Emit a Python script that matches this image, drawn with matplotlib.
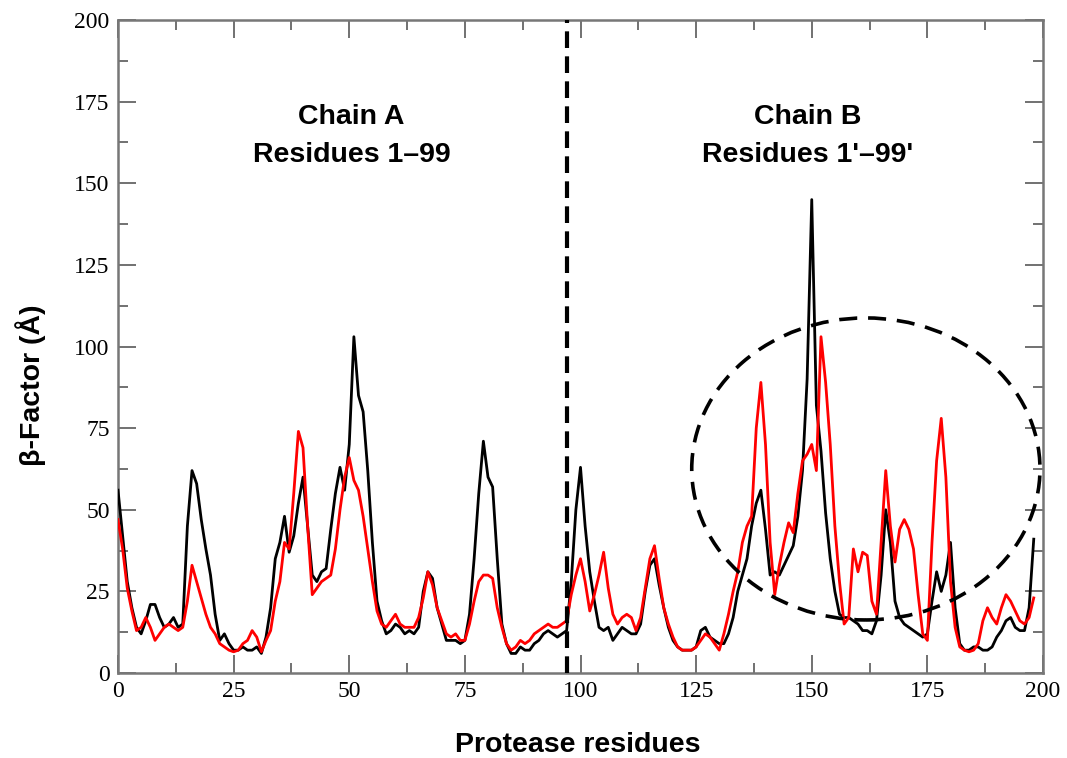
import numpy as np
import matplotlib.pyplot as plt
from matplotlib.patches import Ellipse
from matplotlib.ticker import MultipleLocator

# residue index (chain A 0-97, chain B continues)
residues = list(range(199))

# B-factors, black series
bf_black = [56, 42, 28, 20, 14, 12, 16, 21, 21, 17,
            14, 15, 17, 14, 15, 45, 62, 58, 47, 38,
            30, 18, 10, 12, 9, 7, 7, 8, 7, 7,
            8, 6, 11, 20, 35, 40, 48, 37, 42, 52,
            60, 45, 30, 28, 31, 32, 44, 55, 63, 56,
            70, 103, 85, 80, 62, 40, 22, 16, 12, 13,
            15, 14, 12, 13, 12, 14, 25, 31, 29, 20,
            15, 10, 10, 10, 9, 10, 18, 35, 55, 71,
            60, 57, 35, 15, 9, 6, 6, 8, 7, 7,
            9, 10, 12, 13, 12, 11, 12, 13, 28, 50,
            63, 45, 31, 22, 14, 13, 14, 10, 12, 14,
            13, 12, 12, 15, 25, 33, 35, 27, 20, 14,
            10, 8, 7, 7, 7, 8, 13, 14, 11, 10,
            9, 9, 12, 17, 25, 30, 35, 45, 52, 56,
            44, 30, 31, 30, 33, 36, 39, 48, 62, 90,
            145, 82, 68, 49, 35, 25, 18, 17, 17, 16,
            15, 13, 13, 12, 16, 30, 50, 40, 22, 17,
            15, 14, 13, 12, 11, 12, 22, 31, 25, 30,
            40, 20, 9, 7, 7, 8, 8, 7, 7, 8,
            11, 13, 16, 17, 14, 13, 13, 20, 41]

# B-factors, red series
bf_red = [47, 38, 26, 19, 13, 14, 17, 14, 10, 12,
          14, 15, 14, 13, 14, 22, 33, 28, 23, 18,
          14, 12, 9, 8, 7, 6.5, 7, 9, 10, 13,
          11, 6.5, 10, 13, 22, 28, 40, 38, 55, 74,
          69, 45, 24, 26, 28, 29, 30, 38, 50, 60,
          66, 59, 56, 48, 38, 28, 19, 15, 14, 16,
          18, 15, 14, 14, 14, 17, 23, 31, 27, 20,
          16, 12, 11, 12, 10, 10, 15, 22, 28, 30,
          30, 29, 20, 14, 9, 7, 8, 10, 9, 10,
          12, 13, 14, 15, 14, 14, 15, 16, 24, 30,
          35, 28, 19, 24, 30, 37, 26, 18, 15, 17,
          18, 17, 13, 17, 26, 35, 39, 29, 20, 15,
          11, 8, 7, 7, 7, 8, 10, 12, 11, 9,
          7, 12, 18, 25, 31, 40, 45, 48, 75, 89,
          70, 40, 24, 33, 40, 46, 43, 55, 65, 67,
          70, 62, 103, 89, 70, 45, 28, 15, 17, 38,
          31, 37, 36, 22, 18, 40, 62, 45, 34, 44,
          47, 44, 38, 24, 12, 10, 40, 65, 78, 60,
          28, 14, 8, 7, 6.5, 7, 9, 16, 20, 17,
          15, 20, 24, 22, 19, 16, 15, 17, 23]

chain_split = 97.1

fig = plt.figure(figsize=(10.67, 7.58), dpi=100)
ax = fig.add_axes([0.1106, 0.1121, 0.8669, 0.8615])

ax.plot(residues, bf_black, color='black', lw=2.0, zorder=3)
ax.plot(residues, bf_red, color='red', lw=2.0, zorder=4)

ax.axvline(chain_split, color='black', lw=3, ls=(0, (4, 2)), zorder=5)
ax.add_patch(Ellipse((161.7, 62.5), 75.3, 92.5, fill=False, ec='black',
                     lw=2.6, ls=(0, (5, 3)), zorder=5))

ax.set_xlim(0, 200)
ax.set_ylim(0, 200)
ax.xaxis.set_major_locator(MultipleLocator(25))
ax.xaxis.set_minor_locator(MultipleLocator(12.5))
ax.yaxis.set_major_locator(MultipleLocator(25))
ax.yaxis.set_minor_locator(MultipleLocator(12.5))
ax.tick_params(which='both', direction='in', top=True, right=True,
               color='#666666', width=1.3)
ax.tick_params(which='major', length=13, labelsize=17, pad=6)
ax.tick_params(which='minor', length=7)
for lab in ax.get_xticklabels() + ax.get_yticklabels():
    lab.set_family('Liberation Serif')
for s in ax.spines.values():
    s.set_color('#777777')
    s.set_linewidth(1.8)

bold = dict(family='Liberation Sans', fontweight='bold', fontsize=20.5)
ax.set_xlabel('Protease residues', **bold)
ax.set_ylabel('β-Factor (Å)', **bold)
ax.xaxis.set_label_coords(0.497, -0.09)
ax.yaxis.set_label_coords(-0.078, 0.44)
ax.text(50.4, 170.3, 'Chain A', ha='center', va='center', **bold)
ax.text(50.6, 158.7, 'Residues 1–99', ha='center', va='center', **bold)
ax.text(149.2, 170.3, 'Chain B', ha='center', va='center', **bold)
ax.text(149.2, 158.7, "Residues 1'–99'", ha='center', va='center', **bold)

plt.savefig('out.png', dpi=100)
